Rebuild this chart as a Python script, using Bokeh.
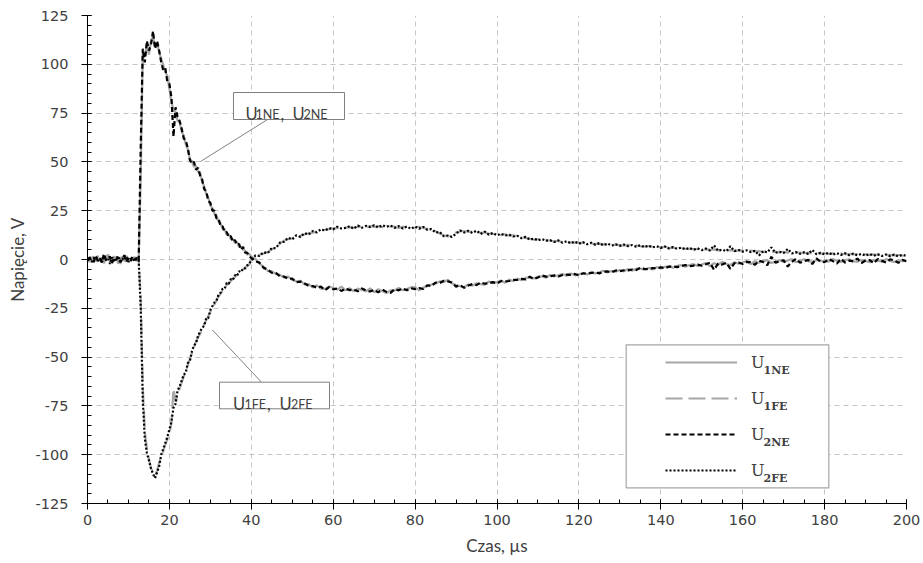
import numpy as np
from bokeh.plotting import figure
from bokeh.models import (FixedTicker, Legend, LegendItem, Label, BoxAnnotation,
                          Arrow, Range1d)
from bokeh.embed import file_html
from bokeh.resources import INLINE

# ---------------- data ----------------
time_us = np.concatenate([np.arange(0.0, 40.0, 0.5), np.arange(40.0, 201.0, 1.0)])

u1ne = [
    # t = 0 .. 12.5 (step 0.5)
    0.5, -0.8, 1.2, -1.5, 0.3, 1.8, -0.6, 0.9, -1.9, 0.4, 2.6, -1.1, 0.2,
    -0.9, 1.4, -2.1, 0.7, 1.1, -0.4, 1.9, -1.3, 0.6, -0.2, 1.3, -0.7, 0.1,
    # t = 13.0 .. 39.5 (step 0.5)
    42, 106, 104, 110, 105, 112, 114, 109, 111, 106,
    103, 99.5, 96, 94, 87.5, 81, 76.5, 75.5, 71, 70.5,
    65.5, 63.5, 59, 56.5, 51.5, 50.5, 47.5, 48, 45, 44.5,
    39.5, 37.5, 33.5, 31.5, 27.5, 26.5, 23.5, 22.5, 19.5, 18.5,
    15.5, 15.5, 12.5, 13, 10.5, 10.5, 8.5, 9, 6.5, 6.5,
    5, 4.5, 2.5, 3,
    # t = 40 .. 200 (step 1)
    1.5, 0.2, -2.1, -3.6, -5.8, -6.1, -7.4, -7.9, -9.3, -8.8,
    -10.4, -11.2, -10.9, -12.8, -12.6, -14.3, -13.2, -14.9, -15.1, -13.8,
    -14.6, -15.4, -13.9, -15.8, -14.7, -16.2, -14.9, -15.6, -16.3, -14.8,
    -16.7, -15.2, -16.1, -17.2, -15.8, -15.9, -14.6, -15.7, -15.1, -14.2,
    -14.3, -15.8, -14.4, -13.6, -12.9, -12.3, -11.2, -11.6, -10.4, -12.3,
    -13.1, -13.7, -14.2, -12.8, -13.4, -12.2, -12.6, -12.9, -11.3, -12.1,
    -11.6, -10.8, -11.9, -10.3, -11.1, -9.8, -10.6, -9.4, -9.2, -9.7,
    -8.8, -8.6, -9.3, -7.9, -8.7, -8.1, -7.4, -8.3, -7.2, -8.1,
    -7.6, -6.9, -7.7, -6.4, -7.2, -6.6, -5.8, -6.7, -5.9, -6.2,
    -5.4, -6.1, -4.9, -5.7, -4.8, -4.6, -5.2, -4.3, -5.1, -3.9,
    -4.6, -3.8, -3.4, -4.2, -3.3, -2.9, -3.7, -2.8, -2.4, -3.3,
    -2.6, -1.8, -3.4, -1.9, -2.7, -1.2, -2.3, -2.8, -1.4, -2.1,
    -1.6, -0.8, -2.4, -0.9, -1.7, -0.7, -0.3, -1.8, -1.1, -0.4,
    -1.3, -0.5, 0.2, -1.4, -0.6, 0.1, -0.8, -1.2, -0.2, -0.9,
    -0.6, -1.1, 0.3, -0.7, -1.3, -0.4, 0.1, -0.9, -1.2, -0.3,
    -0.8, -1.4, -0.2, -0.6, -1.1, 0.2, -0.7, -1.3, -0.5, -0.9,
    -0.6,
]

u1fe = [
    0.3, -1.2, 0.7, 1.4, -0.6, 0.2, -1.8, 1.0, -0.3, 2.1, -0.9, 0.5, -1.4,
    1.7, -0.1, 0.8, -2.2, 0.4, -0.7, 1.3, 0.6, -1.0, 0.9, -0.5, 1.1, -0.4,
    -20, -65, -88, -97, -102, -107, -109, -111, -108, -104,
    -101, -98, -95, -92, -89, -84, -66, -73, -69, -66,
    -63, -60, -57, -54, -51, -48, -45, -42, -40, -38,
    -36, -33, -31, -29, -27, -25, -23, -21, -19, -17.5,
    -16, -14.5, -13, -12, -11, -10, -9, -8, -7, -6,
    -5, -4, -3.5, -2.5,
    0.2, 1.6, 2.4, 3.1, 3.8, 5.2, 6.4, 8.1, 9.6, 10.4,
    10.9, 11.8, 12.1, 12.9, 13.4, 13.8, 14.3, 14.9, 15.2, 15.6,
    15.9, 16.2, 15.7, 16.4, 16.6, 16.1, 16.8, 16.9, 16.5, 17.2,
    16.7, 17.1, 16.6, 17.3, 16.9, 16.8, 16.2, 16.7, 16.4, 16.1,
    16.3, 16.8, 16.2, 15.6, 15.1, 14.4, 13.3, 12.4, 11.8, 12.6,
    13.8, 14.4, 14.6, 14.1, 14.5, 14.2, 13.6, 13.9, 13.2, 13.1,
    12.8, 12.6, 12.9, 12.2, 12.4, 11.8, 11.4, 11.1, 10.6, 10.2,
    10.4, 9.9, 10.1, 9.6, 9.3, 9.5, 8.9, 9.1, 8.6, 8.8,
    8.4, 8.6, 8.1, 8.3, 7.9, 8.1, 7.6, 7.9, 7.4, 7.6,
    7.4, 7.1, 7.5, 6.9, 7.2, 6.8, 6.6, 6.9, 6.5, 6.4,
    6.2, 6.5, 5.9, 6.1, 5.7, 5.9, 5.5, 5.6, 5.2, 5.4,
    5.1, 5.3, 4.9, 5.2, 4.7, 4.9, 4.6, 4.8, 4.4, 4.7,
    4.5, 4.2, 4.6, 4.1, 4.3, 3.9, 4.2, 3.8, 4.0, 3.6,
    3.9, 3.5, 3.7, 3.4, 3.6, 3.2, 3.5, 3.1, 3.3, 3.0,
    3.2, 2.9, 3.1, 2.8, 3.0, 2.7, 2.9, 2.6, 2.8, 2.5,
    2.7, 2.4, 2.6, 2.3, 2.5, 2.2, 2.4, 2.1, 2.3, 2.0,
    2.2,
]

u2ne = [
    -0.4, 1.1, 0.3, -1.2, 1.7, -0.5, 0.8, -1.6, 2.9, -0.3, 0.6, 1.5, -1.8,
    0.9, -0.2, 1.2, -1.4, 0.4, 2.2, -0.9, 0.5, -1.1, 1.6, -0.3, 0.8, -0.6,
    58, 108, 101, 112, 107, 110, 117, 108, 112, 107,
    101, 97, 98, 91, 90, 83, 63, 78, 73, 71,
    67, 62, 61, 57, 51, 49, 50, 46, 47, 43,
    41, 36, 35, 30, 29, 25, 25, 21, 21, 17,
    17, 14, 14, 11.5, 12, 9, 10, 7.5, 8, 5,
    6.5, 3.5, 3.5, 1.5,
    0.8, -0.9, -1.6, -4.3, -5.1, -6.8, -6.9, -8.6, -8.7, -9.9,
    -9.8, -11.7, -11.3, -12.2, -13.5, -13.6, -14.5, -13.9, -15.7, -14.2,
    -15.3, -14.8, -16.1, -14.9, -15.7, -15.4, -16.3, -14.8, -15.9, -16.4,
    -15.6, -16.8, -15.4, -16.6, -17.1, -15.2, -15.8, -14.9, -15.8, -14.7,
    -15.2, -14.6, -15.1, -13.2, -13.6, -11.8, -12.1, -10.9, -11.2, -11.8,
    -13.9, -13.1, -14.5, -13.3, -12.6, -13.1, -11.8, -12.4, -12.2, -11.6,
    -12.3, -11.1, -11.2, -11.0, -10.4, -10.5, -9.9, -10.2, -8.8, -10.1,
    -9.2, -8.2, -8.8, -8.6, -8.1, -8.7, -7.9, -7.7, -7.9, -7.4,
    -8.2, -7.1, -7.2, -6.9, -6.6, -7.1, -6.3, -6.1, -6.5, -5.6,
    -6.0, -5.5, -5.6, -5.1, -5.4, -4.2, -4.8, -4.9, -4.4, -4.5,
    -4.0, -4.4, -3.7, -3.6, -3.9, -3.4, -2.8, -3.5, -3.1, -2.6,
    -3.2, -2.4, -1.6, -5.3, -2.1, -2.6, -1.7, -4.8, -1.9, -1.5,
    -2.3, -1.2, -1.4, -2.7, -0.6, -1.3, -2.9, 1.4, -1.6, -0.9,
    -0.4, -3.6, -1.2, 0.4, -1.7, -0.9, -0.2, -2.3, 0.6, -1.1,
    -1.4, 0.2, -0.8, -2.1, 0.4, -1.6, -0.6, -1.0, 0.5, -1.8,
    -0.5, -0.3, -1.9, 0.3, -0.7, -1.5, 0.1, -0.4, -1.7, -0.2,
    -0.9,
]

u2fe = [
    -0.6, 0.9, -1.3, 0.5, 1.6, -0.8, 0.4, -1.5, 1.2, -0.2, 0.7, -2.3, 1.1,
    -0.5, 0.3, 1.8, -1.0, 0.6, -0.4, 1.5, -1.2, 0.2, 0.8, -0.9, 0.4, -0.3,
    -25, -72, -92, -99, -103, -107, -110, -112, -109, -106,
    -100, -97, -94, -91, -87, -83, -76, -74, -67, -65,
    -62, -59, -58, -53, -52, -47, -44, -43, -39, -37,
    -35, -34, -30, -30, -26, -24, -22, -21, -18, -17,
    -15, -15, -12, -12.5, -10, -10.5, -8, -8.5, -6, -6.5,
    -4.5, -4.5, -3, -2,
    -0.6, 2.1, 1.8, 3.7, 3.2, 5.9, 5.8, 8.7, 9.1, 11.2,
    10.3, 12.4, 11.6, 13.5, 12.8, 14.6, 13.9, 15.5, 14.8, 16.1,
    15.4, 16.8, 15.9, 16.2, 17.1, 15.8, 17.4, 16.3, 17.2, 16.6,
    17.5, 16.4, 17.6, 16.8, 17.4, 16.2, 17.1, 15.9, 16.9, 15.7,
    16.9, 15.8, 16.7, 15.2, 15.6, 13.8, 14.1, 11.9, 12.3, 11.6,
    13.2, 14.9, 13.8, 14.7, 13.6, 14.8, 13.1, 14.3, 12.7, 13.6,
    12.4, 13.2, 12.3, 12.7, 11.8, 12.1, 10.9, 11.6, 10.2, 10.7,
    9.8, 10.5, 9.6, 9.9, 9.0, 9.8, 8.6, 9.4, 8.3, 9.2,
    8.1, 8.9, 7.8, 8.6, 7.6, 8.4, 7.3, 8.2, 7.1, 7.8,
    7.0, 7.7, 6.8, 7.4, 6.6, 7.3, 6.3, 7.1, 6.2, 6.8,
    5.9, 6.7, 5.6, 6.4, 5.5, 6.1, 5.2, 5.9, 5.0, 5.7,
    4.8, 5.6, 4.6, 7.2, 4.5, 5.1, 4.2, 6.8, 4.3, 4.9,
    4.0, 4.7, 3.8, 4.5, 2.1, 4.3, 3.6, 6.2, 3.4, 4.0,
    3.3, 5.4, 3.1, 3.8, 2.9, 3.7, 2.8, 4.9, 2.7, 3.4,
    2.6, 3.5, 2.4, 3.3, 2.3, 3.2, 2.2, 3.0, 2.1, 2.9,
    2.0, 2.8, 1.9, 2.7, 1.8, 2.6, 1.7, 2.5, 1.6, 2.4,
    1.9,
]

for s in (u1ne, u1fe, u2ne, u2fe):
    assert len(s) == len(time_us), (len(s), len(time_us))

x_ticks = [0, 20, 40, 60, 80, 100, 120, 140, 160, 180, 200]
y_ticks = [-125, -100, -75, -50, -25, 0, 25, 50, 75, 100, 125]
y_tick_labels = ["-125", "-100", "-75", "-50", "-25", "0", "25", "50", "75", "100", "125"]
x_minor = list(range(0, 201, 5))
y_minor = list(range(-125, 126, 5))

series_names = ["U", "U", "U", "U"]
series_subs = ["1NE", "1FE", "2NE", "2FE"]

# ---------------- figure ----------------
p = figure(frame_width=819, frame_height=488,
           x_range=Range1d(0, 200), y_range=Range1d(-125, 125),
           output_backend="svg", toolbar_location=None,
           min_border_left=87, min_border_right=15,
           min_border_top=15, min_border_bottom=57)
p.outline_line_color = None
p.background_fill_color = "white"
p.border_fill_color = "white"

p.xaxis.ticker = FixedTicker(ticks=x_ticks, minor_ticks=x_minor)
p.yaxis.ticker = FixedTicker(ticks=y_ticks, minor_ticks=y_minor)
p.yaxis.major_label_overrides = {t: l for t, l in zip(y_ticks, y_tick_labels)}
p.xgrid.ticker = FixedTicker(ticks=x_ticks)
p.ygrid.ticker = FixedTicker(ticks=y_ticks)

p.xaxis.axis_label = "Czas, µs"
p.yaxis.axis_label = "Napięcie, V"

for ax in (p.xaxis[0], p.yaxis[0]):
    ax.axis_line_color = "black"
    ax.axis_line_width = 1
    ax.major_tick_line_color = "black"
    ax.minor_tick_line_color = "black"
    ax.major_tick_in = 4
    ax.major_tick_out = 6
    ax.minor_tick_in = 4
    ax.minor_tick_out = 0
    ax.major_label_text_font = "DejaVu Sans"
    ax.major_label_text_font_size = "14.5px"
    ax.major_label_text_color = "#404040"
    ax.axis_label_text_font = "Lato"
    ax.axis_label_text_font_size = "17px"
    ax.axis_label_text_font_style = "normal"
    ax.axis_label_text_color = "#404040"

p.xaxis.major_label_standoff = 5
p.xaxis.axis_label_standoff = 7
p.yaxis.major_label_standoff = 13
p.yaxis.axis_label_standoff = 5

for g in (p.xgrid[0], p.ygrid[0]):
    g.grid_line_color = "#c4c4c4"
    g.grid_line_dash = "5 4"
    g.grid_line_width = 1

# ---------------- series ----------------
r1 = p.line(time_us, u1ne, line_color="#a6a6a6", line_width=2.2)
r2 = p.line(time_us, u1fe, line_color="#a6a6a6", line_width=2.2, line_dash="17 6")
r3 = p.line(time_us, u2ne, line_color="black", line_width=2.2, line_dash="5 3")
r4 = p.line(time_us, u2fe, line_color="black", line_width=2.2, line_dash="2 2")

# ---------------- legend ----------------
legend_box = BoxAnnotation(left=131.55, right=181.03, top=-43.7, bottom=-116.96,
                           fill_color="white", fill_alpha=1.0,
                           line_color="#a6a6a6", line_alpha=1.0, line_width=1.2)
p.add_layout(legend_box)

legend = Legend(items=[LegendItem(label=n, renderers=[r])
                       for n, r in zip(series_names, [r1, r2, r3, r4])],
                location=(578, 22.7), orientation="vertical",
                padding=0, margin=0, spacing=16,
                glyph_width=72, glyph_height=20, label_height=20,
                label_standoff=14,
                label_text_font="DejaVu Serif", label_text_font_size="16px",
                label_text_color="#404040",
                border_line_alpha=0, background_fill_alpha=0)
p.add_layout(legend, "center")

sub_y = [-56.8, -75.2, -93.6, -112.1]
for sub, yy in zip(series_subs, sub_y):
    p.add_layout(Label(x=165.1, y=yy, text=sub, text_font="DejaVu Serif",
                       text_font_style="bold", text_font_size="11px",
                       text_color="#404040", text_baseline="alphabetic"))

# ---------------- callouts ----------------
def callout(box, line, pieces):
    l, r, t, b = box
    p.add_layout(Arrow(end=None, x_start=line[0], y_start=line[1],
                       x_end=line[2], y_end=line[3],
                       line_color="#808080", line_width=1))
    p.add_layout(BoxAnnotation(left=l, right=r, top=t, bottom=b,
                               fill_color="white", fill_alpha=1.0,
                               line_color="#7f7f7f", line_alpha=1.0,
                               line_width=1))
    for txt, x, y, size in pieces:
        p.add_layout(Label(x=x, y=y, text=txt, text_font="Lato",
                           text_font_size=size, text_color="#404040",
                           text_baseline="alphabetic"))

callout((35.65, 62.76, 85.55, 71.72), (27.59, 50.2, 43.96, 71.72),
        [("U", 38.6, 74.64, "16.5px"), ("1NE", 41.03, 74.13, "12.5px"),
         (",", 47.13, 74.64, "16.5px"), ("U", 50.05, 74.64, "16.5px"),
         ("2NE", 52.75, 74.13, "12.5px")])
callout((32.23, 59.10, -62.86, -76.49), (30.45, -36.0, 42.49, -62.86),
        [("U", 35.53, -73.92, "16.5px"), ("1FE", 38.34, -74.44, "12.5px"),
         (",", 43.83, -73.92, "16.5px"), ("U", 46.89, -73.92, "16.5px"),
         ("2FE", 49.69, -74.44, "12.5px")])

open("out.html", "w").write(file_html(p, INLINE))
